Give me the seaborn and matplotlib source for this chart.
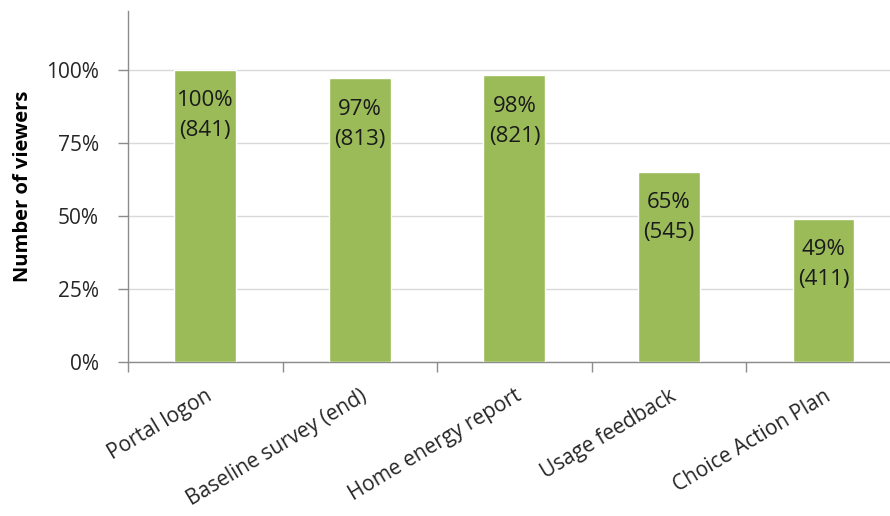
import numpy as np
import pandas as pd
import matplotlib
matplotlib.use('Agg')
import matplotlib.pyplot as plt
import seaborn as sns
from matplotlib.ticker import FixedLocator, PercentFormatter

categories = ["Portal logon", "Baseline survey (end)", "Home energy report",
              "Usage feedback", "Choice Action Plan"]
pct_viewers = [100, 97, 98, 65, 49]
n_viewers = [841, 813, 821, 545, 411]

BAR_COLOR = "#9BBB59"
AXIS_GREY = "#8C8C8C"
GRID_GREY = "#D9D9D9"

sns.set_theme(style="white")
plt.rcParams['font.family'] = ['Open Sans', 'DejaVu Sans']

df = pd.DataFrame({"step": categories, "pct": pct_viewers, "n": n_viewers})

fig = plt.figure(figsize=(8.9, 5.16), dpi=100)
ax = fig.add_axes([0.1438, 0.2984, 0.8562, 0.680])

sns.barplot(data=df, x="step", y="pct", color=BAR_COLOR, width=0.40,
            saturation=1, ax=ax, zorder=3)

for i, (p, n) in enumerate(zip(pct_viewers, n_viewers)):
    ax.text(i, p - 7, "%d%%\n(%d)" % (p, n), ha="center", va="top",
            fontsize=16, color="#1a1a1a", linespacing=1.55, zorder=4)

ax.set_ylim(0, 120)
ax.set_xlim(-0.5, 4.43)
ax.yaxis.set_major_locator(FixedLocator([0, 25, 50, 75, 100]))
ax.yaxis.set_major_formatter(PercentFormatter(decimals=0))
ax.grid(axis="y", color=GRID_GREY, linewidth=1, zorder=0)

# category labels centred under bars, tick marks between categories
ax.set_xticks(range(len(categories)))
ax.set_xticklabels(categories, rotation=31, ha="right", rotation_mode="anchor",
                   fontsize=15, color="#262626")
ax.set_xticks(np.arange(-0.5, 4.5, 1), minor=True)
ax.tick_params(axis="x", which="major", length=0, pad=17)
ax.tick_params(axis="x", which="minor", length=7, width=1, color=AXIS_GREY,
               direction="out", bottom=True)
ax.tick_params(axis="y", which="major", length=7, width=1, color=AXIS_GREY,
               direction="out", left=True, labelsize=15, labelcolor="#262626", pad=14)

ax.set_xlabel("")
ax.set_ylabel("Number of viewers", fontsize=14.5, fontweight="bold",
              color="#000000", labelpad=9)

for side in ["top", "right"]:
    ax.spines[side].set_visible(False)
for side in ["left", "bottom"]:
    ax.spines[side].set_color(AXIS_GREY)
    ax.spines[side].set_linewidth(1)

fig.savefig("out.png", dpi=100)
